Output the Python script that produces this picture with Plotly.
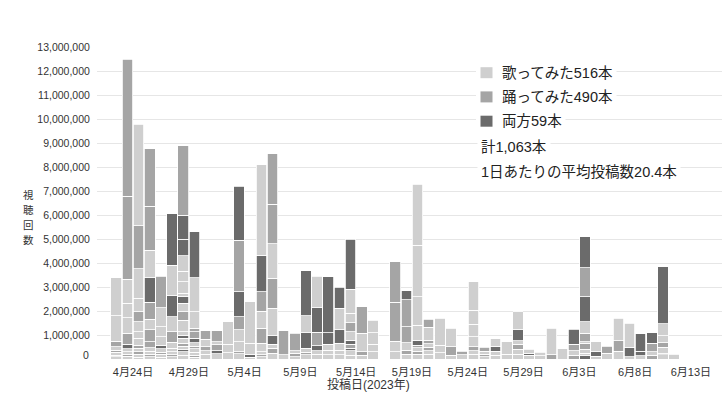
import plotly.graph_objects as go
import pandas as pd

# ---- data (values in millions of views, each bar = stacked individual videos, bottom -> top)
dates = [d.strftime("%Y-%m-%d") for d in pd.date_range("2023-04-23", "2023-06-12", freq="D")]

seg_types = [
    "SDSDSDSS", "SDSSBDSSSDD", "SSDSDSSSDSSDS", "SDSSDDSDBSDD", "SSDSBSSSD",
    "SDSSSDSBSB", "SSBSDSBSSDSBSSSSBBD", "SDSSDSBDDSSB", "SSDSD", "SBDSD",
    "SSS", "SDSSDBDB", "SBSS", "SDSSDSDBS", "SDSBSDSDD",
    "SD", "SDSD", "SDSBSB", "SSBDBS", "SSSBB",
    "SSSBSB", "SSBDBSDSSB", "SDSD", "SSSS", "",
    "SSDD", "SDSDDB", "SDSDBSSSS", "SSDSDSD", "SSS",
    "SDS", "SD", "SSDSSSS", "SDSD", "SSBS",
    "SS", "SSDSBS", "SBS", "SS", "DS",
    "S", "DSDB", "BSSDSDSBDB", "SBS", "SD",
    "SDS", "SBS", "SBB", "DSDB", "SBSDSSB",
    "S",
]
seg_values = [
    [0.10, 0.06, 0.12, 0.08, 0.15, 0.24, 1.05, 1.58],
    [0.12, 0.08, 0.10, 0.12, 0.20, 0.46, 0.63, 0.62, 0.99, 3.46, 5.70],
    [0.08, 0.12, 0.10, 0.15, 0.13, 0.28, 0.28, 0.41, 0.42, 0.57, 1.23, 1.78, 4.23],
    [0.10, 0.10, 0.12, 0.15, 0.25, 0.49, 0.44, 0.71, 1.02, 1.16, 1.83, 2.40],
    [0.08, 0.12, 0.08, 0.14, 0.16, 0.35, 0.41, 0.79, 1.32],
    [0.10, 0.08, 0.12, 0.15, 0.24, 0.45, 0.62, 0.87, 1.28, 2.15],
    [0.15, 0.16, 0.08, 0.15, 0.12, 0.20, 0.14, 0.14, 0.48, 0.35, 0.35, 0.30, 0.11, 0.49, 0.44, 0.64, 0.68, 1.01, 2.89],
    [0.08, 0.08, 0.12, 0.15, 0.10, 0.15, 0.18, 0.28, 0.14, 0.69, 1.41, 1.92],
    [0.20, 0.15, 0.16, 0.31, 0.36],
    [0.21, 0.14, 0.25, 0.12, 0.46],
    [0.26, 0.35, 0.94],
    [0.21, 0.09, 0.42, 0.49, 0.55, 1.04, 2.15, 2.25],
    [0.07, 0.13, 0.45, 1.73],
    [0.10, 0.08, 0.12, 0.35, 0.63, 0.72, 0.80, 1.53, 3.77],
    [0.24, 0.21, 0.17, 0.34, 1.15, 1.25, 1.45, 1.63, 2.12],
    [0.18, 1.00],
    [0.10, 0.14, 0.11, 0.72],
    [0.17, 0.12, 0.16, 0.64, 0.71, 1.87],
    [0.20, 0.15, 0.20, 0.56, 1.02, 1.32],
    [0.17, 0.20, 0.25, 0.47, 2.33],
    [0.17, 0.20, 0.28, 0.56, 0.90, 0.87],
    [0.15, 0.20, 0.10, 0.17, 0.17, 0.35, 0.37, 0.39, 1.00, 2.09],
    [0.15, 0.15, 0.77, 1.11],
    [0.30, 0.32, 0.47, 0.53],
    [],
    [0.30, 0.45, 1.61, 1.69],
    [0.20, 0.17, 0.31, 0.66, 1.12, 0.38],
    [0.20, 0.13, 0.13, 0.12, 0.21, 0.62, 1.18, 2.15, 2.54],
    [0.20, 0.15, 0.14, 0.15, 0.15, 0.53, 0.34],
    [0.27, 0.30, 1.12],
    [0.16, 0.35, 0.77],
    [0.18, 0.15],
    [0.20, 0.15, 0.16, 0.42, 0.51, 0.60, 1.18],
    [0.10, 0.10, 0.12, 0.17],
    [0.15, 0.18, 0.21, 0.30],
    [0.20, 0.52],
    [0.20, 0.20, 0.22, 0.14, 0.45, 0.76],
    [0.15, 0.10, 0.15],
    [0.14, 0.15],
    [0.18, 1.10],
    [0.42],
    [0.15, 0.20, 0.27, 0.62],
    [0.14, 0.11, 0.15, 0.25, 0.07, 0.35, 0.48, 1.04, 1.21, 1.29],
    [0.12, 0.18, 0.42],
    [0.24, 0.30],
    [0.33, 0.43, 0.93],
    [0.10, 0.39, 1.00],
    [0.13, 0.20, 0.72],
    [0.15, 0.15, 0.35, 0.44],
    [0.18, 0.06, 0.25, 0.19, 0.28, 0.50, 2.38],
    [0.20],
]

category_codes = ["S", "D", "B"]
category_labels = ["歌ってみた516本", "踊ってみた490本", "両方59本"]
category_colors = {"S": "#cfcfcf", "D": "#a5a5a5", "B": "#6b6b6b"}
note_labels = ["計1,063本", "1日あたりの平均投稿数20.4本"]

tick_dates = ["2023-04-24", "2023-04-29", "2023-05-04", "2023-05-09", "2023-05-14", "2023-05-19",
              "2023-05-24", "2023-05-29", "2023-06-03", "2023-06-08", "2023-06-13"]
tick_labels = ["4月24日", "4月29日", "5月4日", "5月9日", "5月14日", "5月19日",
               "5月24日", "5月29日", "6月3日", "6月8日", "6月13日"]
y_ticks = [i * 1_000_000 for i in range(14)]
y_title = "視聴回数"

FONT = "Liberation Sans, Noto Sans CJK JP, sans-serif"
JFONT = "Noto Sans CJK JP, sans-serif"

# ---- layout geometry (pixels)
W, H = 726, 393
L, R, T, B = 97, 4, 47, 34
PW, PH = W - L - R, H - T - B


def px_x(x):
    return (x - L) / PW


def px_y(y):
    return (H - B - y) / PH


fig = go.Figure()
n_layers = max(len(v) for v in seg_values)
for k in range(n_layers):
    ys = [v[k] * 1e6 if k < len(v) else None for v in seg_values]
    cs = [category_colors[t[k]] if k < len(t) else "#ffffff" for t in seg_types]
    fig.add_trace(go.Bar(
        x=dates, y=ys,
        marker=dict(color=cs, line=dict(color="white", width=0.8)),
        showlegend=False, hoverinfo="skip",
    ))

shapes = []
annotations = []

# legend block
line_y = [72.7, 96.9, 121.2, 146.5, 171.5]
for i, (code, label) in enumerate(zip(category_codes, category_labels)):
    cy = line_y[i]
    shapes.append(dict(type="rect", xref="paper", yref="paper", layer="above",
                       x0=px_x(476), x1=px_x(501), y0=px_y(cy + 8), y1=px_y(cy - 8),
                       fillcolor="white", line=dict(width=0)))
    shapes.append(dict(type="rect", xref="paper", yref="paper", layer="above",
                       x0=px_x(480.5), x1=px_x(492.5), y0=px_y(cy + 5.5), y1=px_y(cy - 5.5),
                       fillcolor=category_colors[code], line=dict(width=0)))
    annotations.append(dict(xref="paper", yref="paper", x=px_x(498), y=px_y(cy),
                            xanchor="left", yanchor="middle", showarrow=False,
                            text=label, bgcolor="white", borderpad=3,
                            font=dict(family=FONT, size=14.5, color="#222")))
for j, note in enumerate(note_labels):
    cy = line_y[3 + j]
    annotations.append(dict(xref="paper", yref="paper", x=px_x(477), y=px_y(cy),
                            xanchor="left", yanchor="middle", showarrow=False,
                            text=note, bgcolor="white", borderpad=3,
                            font=dict(family=FONT, size=14.5, color="#222")))

# y axis title (vertical, one character per line)
for ch, cy in zip(y_title, [194.5, 209.5, 224.5, 239.5]):
    annotations.append(dict(xref="paper", yref="paper", x=px_x(28.5), y=px_y(cy),
                            xanchor="center", yanchor="middle", showarrow=False,
                            text=ch, font=dict(family=JFONT, size=10.5, color="#333")))

# x axis title
annotations.append(dict(xref="paper", yref="paper", x=px_x(368), y=px_y(384),
                        xanchor="center", yanchor="middle", showarrow=False,
                        text="投稿日(2023年)", font=dict(family=FONT, size=12, color="#333")))

# zero label (sits slightly above its gridline in the original)
annotations.append(dict(xref="paper", yref="y", x=0, y=0, xanchor="right", yanchor="middle",
                        xshift=-6, yshift=4, showarrow=False, text="0",
                        font=dict(family=FONT, size=10.5, color="#333")))

fig.update_layout(
    template="none",
    width=W, height=H,
    margin=dict(l=L, r=R, t=T, b=B, pad=0, autoexpand=False),
    paper_bgcolor="white", plot_bgcolor="white",
    barmode="stack", bargap=0.05,
    shapes=shapes, annotations=annotations,
    font=dict(family=FONT, color="#333"),
    xaxis=dict(
        type="date", automargin=False,
        range=["2023-04-21 06:30", "2023-06-16 07:00"],
        tickvals=[d + " 12:00" for d in tick_dates],
        ticktext=tick_labels,
        showgrid=False, zeroline=False, showline=False,
        ticks="outside", ticklen=3, tickcolor="rgba(0,0,0,0)",
        tickfont=dict(family=FONT, size=11, color="#333"),
        fixedrange=True,
    ),
    yaxis=dict(
        automargin=False,
        range=[0, 13_000_000],
        tickvals=y_ticks,
        ticktext=["" if v == 0 else f"{v:,}" for v in y_ticks],
        showgrid=True, gridcolor="#e6e6e6", gridwidth=1,
        zeroline=False, showline=False,
        ticks="outside", ticklen=4, tickcolor="rgba(0,0,0,0)",
        tickfont=dict(family=FONT, size=10.5, color="#333"),
        fixedrange=True,
    ),
)

fig.write_html(
    "out.html",
    config={"displayModeBar": False, "staticPlot": True},
    post_script="document.body.style.margin='0';document.body.style.overflow='hidden';",
)
